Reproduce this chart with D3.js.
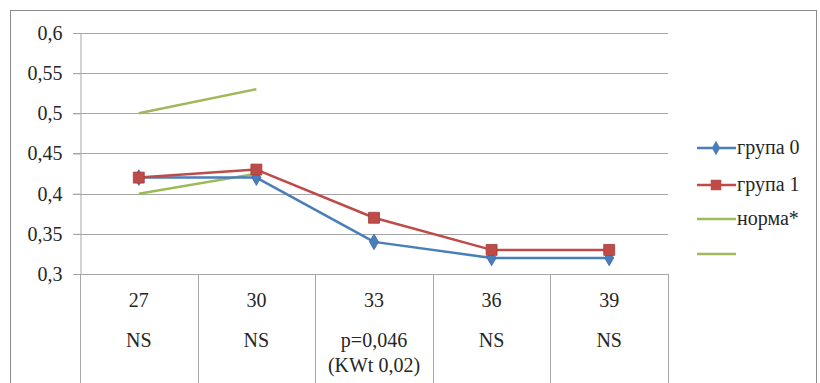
<!DOCTYPE html>
<html><head><meta charset="utf-8">
<script src="https://cdn.jsdelivr.net/npm/d3@7"></script>
</head><body style="margin:0"><svg id="c" width="820" height="383" style="display:block"></svg>
<script>
const categories = ["27","30","33","36","39"];
const pLabels = [["NS"],["NS"],["p=0,046","(KWt 0,02)"],["NS"],["NS"]];
const group0 = [0.42, 0.42, 0.34, 0.32, 0.32];
const group1 = [0.42, 0.43, 0.37, 0.33, 0.33];
const normaLow = [0.40, 0.425, null, null, null];
const normaHigh = [0.50, 0.53, null, null, null];
const yTicks = [0.3, 0.35, 0.4, 0.45, 0.5, 0.55, 0.6];
const seriesNames = ["група 0", "група 1", "норма*", ""];

const FAM = "serif";
const FS = 20;
const TXT = "#262626";
const svg = d3.select("#c");
const L = 80, R = 668, T = 33, B = 274, Bottom = 383;
const x = d3.scaleBand().domain(categories).range([L, R]);
const y = d3.scaleLinear().domain([0.3, 0.6]).range([B, T]);
const fmt = v => String(+v.toFixed(2)).replace(".", ",");
const styleText = sel => sel.attr("font-family", FAM).attr("font-size", FS).attr("fill", TXT);

svg.append("rect").attr("x",10.5).attr("y",10.5).attr("width",806).attr("height",380)
  .attr("fill","none").attr("stroke","#8c8c8c").attr("stroke-width",1);

svg.append("g").selectAll("line").data(yTicks.slice(1)).join("line")
  .attr("x1", L-7).attr("x2", R).attr("y1", d=>Math.round(y(d))+0.5).attr("y2", d=>Math.round(y(d))+0.5)
  .attr("stroke","#a6a6a6");

const ya = svg.append("g").attr("transform",`translate(${L+0.5},0)`)
  .call(d3.axisLeft(y).tickValues(yTicks).tickFormat(fmt).tickSize(7).tickPadding(11));
ya.attr("font-family", FAM).attr("font-size", FS);
ya.select(".domain").attr("stroke","#a6a6a6");
ya.selectAll(".tick line").attr("stroke","#a6a6a6");
ya.selectAll(".tick text").call(styleText);

svg.append("line").attr("x1",L-7).attr("x2",R).attr("y1",B+0.5).attr("y2",B+0.5).attr("stroke","#a6a6a6");
const bounds = categories.map(c=>x(c)).concat([R]);
svg.append("g").selectAll("line").data(bounds).join("line")
  .attr("x1", d=>Math.round(d)+0.5).attr("x2", d=>Math.round(d)+0.5)
  .attr("y1", B).attr("y2", Bottom).attr("stroke","#a6a6a6");

categories.forEach((c,i)=>{
  const cx = x(c)+x.bandwidth()/2;
  svg.append("text").attr("x",cx).attr("y",307).attr("text-anchor","middle").call(styleText).text(c);
  pLabels[i].forEach((t,j)=>{
    svg.append("text").attr("x",cx).attr("y",347+j*25).attr("text-anchor","middle").call(styleText).text(t);
  });
});

const cx = (d,i)=>x(categories[i])+x.bandwidth()/2;
const line = d3.line().defined(d=>d!=null).x((d,i)=>cx(d,i)).y(d=>y(d));

const series = [
  {data: normaHigh, color:"#a3b85a", marker:null},
  {data: normaLow, color:"#9bbb59", marker:null},
  {data: group0, color:"#4a7ebb", marker:"diamond"},
  {data: group1, color:"#be4b48", marker:"square"},
];
series.forEach(s=>{
  svg.append("path").attr("d", line(s.data)).attr("fill","none").attr("stroke",s.color).attr("stroke-width",2.5).attr("stroke-linejoin","round");
  if (s.marker){
    const sym = d3.symbol().type(s.marker==="diamond"? d3.symbolDiamond : d3.symbolSquare).size(s.marker==="diamond"?70:120);
    svg.append("g").selectAll("path").data(s.data.map((d,i)=>[d,i]).filter(p=>p[0]!=null)).join("path")
      .attr("transform", p=>`translate(${cx(p[0],p[1])},${y(p[0])})`)
      .attr("d", sym).attr("fill", s.color).attr("stroke", s.marker==="square"?"#a33d3a":"#3a6aa5").attr("stroke-width",0.8);
  }
});

const leg = [
  {name: seriesNames[0], color:"#4a7ebb", marker:"diamond", y:148},
  {name: seriesNames[1], color:"#be4b48", marker:"square", y:185},
  {name: seriesNames[2], color:"#9bbb59", marker:null, y:219},
  {name: seriesNames[3], color:"#a3b85a", marker:null, y:254},
];
leg.forEach(l=>{
  svg.append("line").attr("x1",697).attr("x2",736).attr("y1",l.y).attr("y2",l.y).attr("stroke",l.color).attr("stroke-width",2.5);
  if (l.marker){
    const sym = d3.symbol().type(l.marker==="diamond"? d3.symbolDiamond : d3.symbolSquare).size(l.marker==="diamond"?60:110);
    svg.append("path").attr("transform",`translate(716,${l.y})`).attr("d",sym).attr("fill",l.color);
  }
  svg.append("text").attr("x",737).attr("y",l.y+6).call(styleText).text(l.name);
});
</script></body></html>
